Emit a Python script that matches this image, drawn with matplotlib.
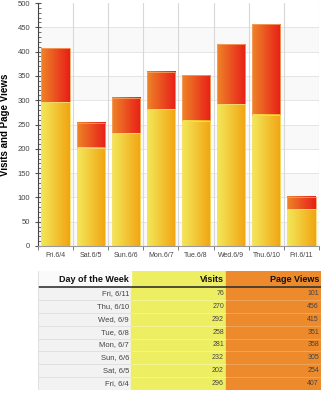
import numpy as np
import matplotlib
matplotlib.use("Agg")
import matplotlib.pyplot as plt
from matplotlib.colors import LinearSegmentedColormap
from matplotlib.patches import Rectangle

days = ["Fri.6/4", "Sat.6/5", "Sun.6/6", "Mon.6/7", "Tue.6/8", "Wed.6/9", "Thu.6/10", "Fri.6/11"]
table_days = ["Fri, 6/4", "Sat, 6/5", "Sun, 6/6", "Mon, 6/7", "Tue, 6/8", "Wed, 6/9", "Thu, 6/10", "Fri, 6/11"]
visits = [296, 202, 232, 281, 258, 292, 270, 76]
page_views = [407, 254, 305, 358, 351, 415, 456, 101]
headers = ["Day of the Week", "Visits", "Page Views"]

plt.rcParams['font.family'] = ['Liberation Sans', 'DejaVu Sans']

fig = plt.figure(figsize=(3.21, 4.0), dpi=100)
ax = fig.add_axes([0.118, 0.385, 0.876, 0.6075])

visit_cmap = LinearSegmentedColormap.from_list("v", ["#f3e85a", "#f2a412"])
pv_cmap = LinearSegmentedColormap.from_list("p", ["#ee8428", "#e81e18"])
grad = np.tile(np.linspace(0, 1, 128), (4, 1))

n = len(days)
width = 0.8

# alternating horizontal bands
for lo in range(0, 500, 100):
    ax.axhspan(lo, lo + 50, color="#f9f9f9", lw=0, zorder=0)
for y in range(50, 500, 50):
    ax.axhline(y, color="#e2e2e2", lw=0.6, zorder=1)
for i in range(n + 1):
    ax.axvline(i - 0.5, color="#d8d8d8", lw=0.8, zorder=1)

for i in range(n):
    x0, x1 = i - width / 2, i + width / 2
    ax.imshow(grad, cmap=pv_cmap, extent=[x0, x1, visits[i], page_views[i]],
              aspect="auto", zorder=2, interpolation="nearest")
    ax.add_patch(Rectangle((x0, visits[i]), width, page_views[i] - visits[i],
                           fill=False, ec="#f5a060", lw=0.6, zorder=3))
    ax.imshow(grad, cmap=visit_cmap, extent=[x0, x1, 0, visits[i]],
              aspect="auto", zorder=2, interpolation="nearest")
    ax.add_patch(Rectangle((x0, 0), width, visits[i],
                           fill=False, ec="#f6e070", lw=0.6, zorder=3))
ax.set_xlim(-0.5, n - 0.5)
ax.set_ylim(0, 500)

ax.set_xticks(range(n))
ax.set_xticklabels(days, fontsize=5, color="#444444")
ax.tick_params(axis="x", length=0, pad=4)
ax.set_xticks(np.arange(-0.5, n, 1), minor=True)
ax.tick_params(axis="x", which="minor", length=3, color="#666666")
ax.set_yticks(range(0, 501, 50))
ax.set_yticks(range(0, 501, 10), minor=True)
ax.tick_params(axis="y", labelsize=5.5, labelcolor="#444444", length=4, direction="inout", color="#555555")
ax.tick_params(axis="y", which="minor", length=2, direction="in", color="#555555")
ax.set_ylabel("Visits and Page Views", fontsize=7, fontweight="bold")
ax.yaxis.set_label_coords(-0.1, 0.5)
for side in ["top", "right"]:
    ax.spines[side].set_visible(False)
ax.spines["left"].set_color("#444444")
ax.spines["bottom"].set_color("#999999")

# table below the chart
tax = fig.add_axes([0.118, 0.025, 0.882, 0.2975])
tax.set_xlim(0, 283)
tax.set_ylim(119, 0)
tax.axis("off")

col_x = [0, 93, 188, 283]
col_bg = ["#f2f2f2", "#eeee62", "#ec8a2c"]
head_h = 16
row_h = (119 - head_h) / n

for c in range(3):
    tax.add_patch(Rectangle((col_x[c], 0), col_x[c + 1] - col_x[c], 119,
                            color=col_bg[c], zorder=0))
tax.add_patch(Rectangle((0, 0), col_x[1], head_h, color="#fafafa", zorder=0))
for c in range(3):
    tax.text(col_x[c + 1] - 2, head_h / 2, headers[c], ha="right", va="center",
             fontsize=6.5, fontweight="bold", color="#111111")
tax.plot([0, 283], [head_h, head_h], color="#333333", lw=1.2)

rows = list(range(n))[::-1]
for r, k in enumerate(rows):
    y = head_h + (r + 0.5) * row_h
    tax.text(col_x[1] - 2, y, table_days[k], ha="right", va="center", fontsize=5.5, color="#444444")
    tax.text(col_x[2] - 2, y, str(visits[k]), ha="right", va="center", fontsize=5, color="#444444")
    tax.text(col_x[3] - 2, y, str(page_views[k]), ha="right", va="center", fontsize=5, color="#444444")
    if r > 0:
        yl = head_h + r * row_h
        tax.plot([0, col_x[1]], [yl, yl], color="#dddddd", lw=0.6)
        tax.plot([col_x[1], col_x[2]], [yl, yl], color="#f4f49a", lw=0.6)
        tax.plot([col_x[2], col_x[3]], [yl, yl], color="#f0a860", lw=0.6)
tax.plot([0, 0], [0, 119], color="#dddddd", lw=0.6)

fig.savefig("out.png", dpi=100)
